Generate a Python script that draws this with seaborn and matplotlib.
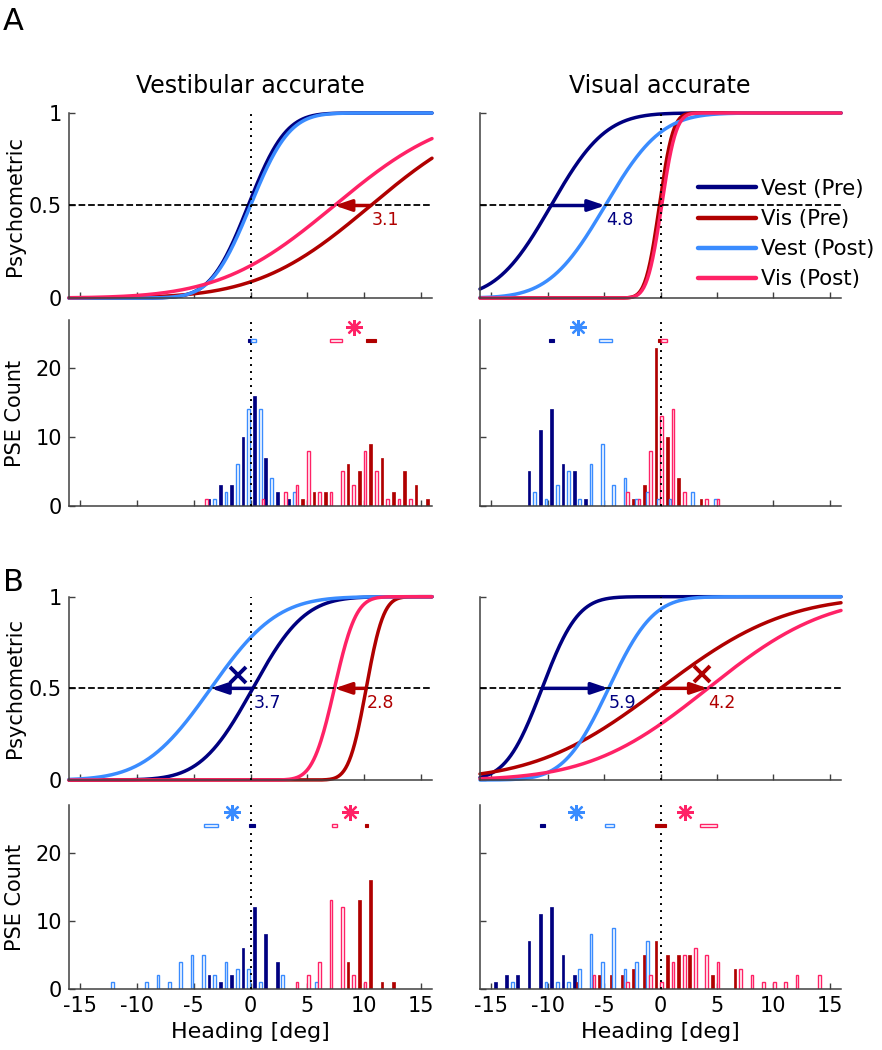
import numpy as np
import pandas as pd
import matplotlib
matplotlib.use("Agg")
import matplotlib.pyplot as plt
import seaborn as sns
from math import erf, sqrt

# ============================================
# DATA
# ============================================
CONDS = ['Vest (Pre)', 'Vis (Pre)', 'Vest (Post)', 'Vis (Post)']
COLORS = {'Vest (Pre)': '#000080', 'Vis (Pre)': '#b00000',
          'Vest (Post)': '#3a8cff', 'Vis (Post)': '#ff2266'}

# psychometric fits (cumulative Gaussian): PSE and sigma in deg, order = CONDS
A_vest_pse = [-0.2, 10.6, 0.0, 7.4]
A_vest_sigma = [2.6, 7.8, 2.7, 7.9]
A_vis_pse = [-9.7, -0.1, -4.9, 0.1]
A_vis_sigma = [3.8, 0.95, 3.9, 1.0]
B_vest_pse = [0.2, 10.2, -3.5, 7.4]
B_vest_sigma = [3.6, 1.2, 4.6, 1.5]
B_vis_pse = [-10.5, 0.0, -4.6, 4.2]
B_vis_sigma = [2.5, 8.7, 3.1, 8.2]

# shift arrows: (from, to, label)
A_vest_shifts = [('Vis (Pre)', 'Vis (Post)', '3.1')]
A_vis_shifts = [('Vest (Pre)', 'Vest (Post)', '4.8')]
B_vest_shifts = [('Vest (Pre)', 'Vest (Post)', '3.7'), ('Vis (Pre)', 'Vis (Post)', '2.8')]
B_vis_shifts = [('Vest (Pre)', 'Vest (Post)', '5.9'), ('Vis (Pre)', 'Vis (Post)', '4.2')]

# "x" marks on the B psychometric panels: (x, y, cond colour)
B_vest_xmark = (-1.07, 0.574, 'Vest (Pre)')
B_vis_xmark = (3.7, 0.58, 'Vis (Pre)')

# PSE histograms: heading bin (deg) and count
A_vest_vestpre_bin = [-4, -3, -2, -1, 0, 1, 2, 3]
A_vest_vestpre_n = [1, 3, 3, 10, 16, 7, 2, 1]
A_vest_vestpost_bin = [-3, -2, -1, 0, 1, 2, 4]
A_vest_vestpost_n = [1, 2, 6, 14, 14, 4, 2]
A_vest_vispre_bin = [4, 5, 6, 8, 9, 10, 11, 12, 13, 14, 15]
A_vest_vispre_n = [1, 2, 2, 6, 5, 9, 7, 2, 5, 3, 1]
A_vest_vispost_bin = [-4, 1, 3, 4, 5, 6, 7, 8, 9, 10, 11, 12, 13, 14]
A_vest_vispost_n = [1, 1, 2, 3, 8, 2, 2, 5, 3, 8, 5, 1, 1, 1]

A_vis_vestpre_bin = [-12, -11, -10, -9, -8, -7]
A_vis_vestpre_n = [5, 11, 14, 6, 5, 1]
A_vis_vestpost_bin = [-11, -10, -9, -8, -7, -6, -5, -4, -3, -2, -1, 0, 1, 3, 5]
A_vis_vestpost_n = [2, 1, 3, 5, 1, 6, 9, 3, 4, 1, 2, 1, 1, 2, 1]
A_vis_vispre_bin = [-3, -2, -1, 0, 1, 3]
A_vis_vispre_n = [1, 3, 23, 10, 4, 1]
A_vis_vispost_bin = [-3, -2, -1, 0, 1, 2, 4, 5]
A_vis_vispost_n = [2, 1, 8, 13, 14, 2, 1, 1]

B_vest_vestpre_bin = [-4, -3, -2, -1, 0, 1, 2]
B_vest_vestpre_n = [2, 1, 2, 6, 12, 8, 4]
B_vest_vestpost_bin = [-12, -9, -8, -7, -6, -5, -4, -3, -2, -1, 0, 1, 3, 6]
B_vest_vestpost_n = [1, 1, 2, 1, 4, 5, 5, 2, 4, 3, 3, 1, 2, 1]
B_vest_vispre_bin = [8, 9, 10, 11, 12]
B_vest_vispre_n = [4, 13, 16, 1, 1]
B_vest_vispost_bin = [4, 5, 6, 7, 8, 9, 10]
B_vest_vispost_n = [1, 2, 4, 13, 12, 2, 1]

B_vis_vestpre_bin = [-15, -14, -13, -12, -11, -10, -9, -8]
B_vis_vestpre_n = [1, 2, 2, 7, 11, 12, 5, 2]
B_vis_vestpost_bin = [-13, -10, -9, -8, -7, -6, -5, -4, -3, -2, -1]
B_vis_vestpost_n = [1, 1, 1, 1, 3, 8, 4, 9, 3, 4, 7]
B_vis_vispre_bin = [-8, -6, -5, -4, -3, -2, -1, 0, 1, 2, 4, 6]
B_vis_vispre_n = [1, 2, 2, 2, 3, 5, 7, 5, 5, 5, 2, 3]
B_vis_vispost_bin = [-6, -3, -1, 0, 1, 2, 3, 4, 5, 7, 8, 9, 10, 11, 12, 14]
B_vis_vispost_n = [2, 1, 2, 1, 4, 5, 6, 5, 4, 3, 2, 1, 1, 1, 2, 2]

# mean PSE intervals above the histograms: (lo, hi), order = CONDS
A_vest_ci = [(-0.2, 0.15), (10.2, 11.1), (0.06, 0.5), (7.0, 8.1)]
A_vis_ci = [(-9.9, -9.4), (-0.24, 0.15), (-5.46, -4.27), (0.0, 0.6)]
B_vest_ci = [(-0.1, 0.4), (10.06, 10.4), (-4.1, -2.84), (7.2, 7.6)]
B_vis_ci = [(-10.7, -10.2), (-0.5, 0.53), (-4.96, -4.13), (3.54, 5.0)]

# significance asterisks: (x, cond colour)
A_vest_star = [(9.1, 'Vis (Post)')]
A_vis_star = [(-7.3, 'Vest (Post)')]
B_vest_star = [(-1.65, 'Vest (Post)'), (8.8, 'Vis (Post)')]
B_vis_star = [(-7.5, 'Vest (Post)'), (2.15, 'Vis (Post)')]

# ============================================
# STYLE / LAYOUT
# ============================================
sns.set_style('ticks')
plt.rcParams['font.family'] = ['DejaVu Sans']
plt.rcParams['axes.unicode_minus'] = False
plt.rcParams['text.color'] = 'black'
plt.rcParams['axes.labelcolor'] = 'black'
plt.rcParams['xtick.labelcolor'] = 'black'
plt.rcParams['ytick.labelcolor'] = 'black'

W, H = 882, 1050
BAR_OFFSET = {'Vest (Pre)': 0.35, 'Vest (Post)': -0.15, 'Vis (Pre)': 0.6, 'Vis (Post)': 0.1}
SPINE = '#404040'

fig = plt.figure(figsize=(W / 100, H / 100), dpi=100)


def px_axes(l, t, r, b):
    return fig.add_axes([l / W, 1 - b / H, (r - l) / W, (b - t) / H])


def style_axes(ax, ylabels, xlabels):
    sns.despine(ax=ax)
    for s in ['left', 'bottom']:
        ax.spines[s].set_color(SPINE)
        ax.spines[s].set_linewidth(1.1)
    ax.set_xlim(-16, 16)
    ax.set_xticks([-15, -10, -5, 0, 5, 10, 15])
    ax.tick_params(direction='in', length=4, width=1, color=SPINE, labelsize=15,
                   labelcolor='black', labelleft=ylabels, labelbottom=xlabels, pad=5)
    ax.set_xlabel('')
    ax.set_ylabel('')


def norm_cdf(x, m, s):
    return np.array([0.5 * (1 + erf((v - m) / (s * sqrt(2)))) for v in x])


def psych_panel(ax, pse, sigma, shifts, xmark=None, legend=False, ylabels=True):
    xs = np.linspace(-16, 16, 400)
    frames = []
    for c, m, s in zip(CONDS, pse, sigma):
        frames.append(pd.DataFrame({'x': xs, 'p': norm_cdf(xs, m, s), 'cond': c}))
    df = pd.concat(frames)
    sns.lineplot(data=df, x='x', y='p', hue='cond', hue_order=CONDS, palette=COLORS,
                 lw=2.5, ax=ax, legend=legend, zorder=2)
    for ln in ax.get_lines():
        ln.set_clip_on(False)
    ax.set_ylim(0, 1)
    ax.set_yticks([0, 0.5, 1])
    ax.set_yticklabels(['0', '0.5', '1'])
    ax.axhline(0.5, color='k', ls='--', lw=1.3, zorder=3)
    ax.axvline(0, color='k', ls=(0, (1, 2.6)), lw=1.4, zorder=3)
    pse_of = dict(zip(CONDS, pse))
    for a, b, lab in shifts:
        col = COLORS[a]
        ax.annotate('', xy=(pse_of[b], 0.5), xytext=(pse_of[a], 0.5),
                    arrowprops=dict(arrowstyle='-|>,head_length=0.5,head_width=0.17',
                                    color=col, lw=2.5, shrinkA=0, shrinkB=0,
                                    mutation_scale=20), zorder=4)
        ax.text(max(pse_of[a], pse_of[b]) + 0.05, 0.47, lab, color=col,
                fontsize=12.5, ha='left', va='top', zorder=5)
    if xmark is not None:
        ax.plot(xmark[0], xmark[1], marker='x', ms=12, mew=2.8,
                color=COLORS[xmark[2]], zorder=5)
    if legend:
        ax.legend(loc='center left', bbox_to_anchor=(0.605, 0.345), frameon=False,
                  fontsize=15.3, handlelength=2.7, handletextpad=0.25,
                  labelspacing=0.48, borderpad=0, borderaxespad=0)
        for ln in ax.get_legend().get_lines():
            ln.set_linewidth(3.2)
    style_axes(ax, ylabels, False)


def hist_panel(ax, hists, ci, stars, ylabels=True, xlabels=False):
    for c in CONDS:
        bins, n = hists[c]
        pos = np.array(bins) + BAR_OFFSET[c]
        if 'Pre' in c:
            ax.bar(pos, n, width=0.24, color=COLORS[c], edgecolor=COLORS[c], lw=0.5, zorder=2)
        else:
            ax.bar(pos, n, width=0.24, facecolor='white', edgecolor=COLORS[c], lw=1.0, zorder=2)
    for c, (lo, hi) in zip(CONDS, ci):
        if 'Pre' in c:
            ax.barh(24, hi - lo, left=lo, height=0.5, color=COLORS[c], edgecolor=COLORS[c], lw=0.8, zorder=4)
        else:
            ax.barh(24, hi - lo, left=lo, height=0.5, facecolor='white', edgecolor=COLORS[c], lw=1.0, zorder=4)
    for x, c in stars:
        ax.plot(x, 26, marker=(8, 2, 0), ms=12, mew=1.6, color=COLORS[c], zorder=5)
    ax.axvline(0, color='k', ls=(0, (1, 2.6)), lw=1.4, zorder=3)
    ax.set_ylim(0, 27)
    ax.set_yticks([0, 10, 20])
    style_axes(ax, ylabels, xlabels)


def pack(vp, vpn, vq, vqn, sp, spn, sq, sqn):
    return {'Vest (Pre)': (vp, vpn), 'Vest (Post)': (vq, vqn),
            'Vis (Pre)': (sp, spn), 'Vis (Post)': (sq, sqn)}


LX = (69, 432)
RX = (480, 841)
ROWS = [(113, 298), (320, 505.7), (596.7, 780), (805, 989)]

# ---- A ----
ax = px_axes(LX[0], ROWS[0][0], LX[1], ROWS[0][1])
psych_panel(ax, A_vest_pse, A_vest_sigma, A_vest_shifts)
ax = px_axes(RX[0], ROWS[0][0], RX[1], ROWS[0][1])
psych_panel(ax, A_vis_pse, A_vis_sigma, A_vis_shifts, legend=True, ylabels=False)

ax = px_axes(LX[0], ROWS[1][0], LX[1], ROWS[1][1])
hist_panel(ax, pack(A_vest_vestpre_bin, A_vest_vestpre_n, A_vest_vestpost_bin, A_vest_vestpost_n,
                    A_vest_vispre_bin, A_vest_vispre_n, A_vest_vispost_bin, A_vest_vispost_n),
           A_vest_ci, A_vest_star)
ax = px_axes(RX[0], ROWS[1][0], RX[1], ROWS[1][1])
hist_panel(ax, pack(A_vis_vestpre_bin, A_vis_vestpre_n, A_vis_vestpost_bin, A_vis_vestpost_n,
                    A_vis_vispre_bin, A_vis_vispre_n, A_vis_vispost_bin, A_vis_vispost_n),
           A_vis_ci, A_vis_star, ylabels=False)

# ---- B ----
ax = px_axes(LX[0], ROWS[2][0], LX[1], ROWS[2][1])
psych_panel(ax, B_vest_pse, B_vest_sigma, B_vest_shifts, xmark=B_vest_xmark)
ax = px_axes(RX[0], ROWS[2][0], RX[1], ROWS[2][1])
psych_panel(ax, B_vis_pse, B_vis_sigma, B_vis_shifts, xmark=B_vis_xmark, ylabels=False)

ax = px_axes(LX[0], ROWS[3][0], LX[1], ROWS[3][1])
hist_panel(ax, pack(B_vest_vestpre_bin, B_vest_vestpre_n, B_vest_vestpost_bin, B_vest_vestpost_n,
                    B_vest_vispre_bin, B_vest_vispre_n, B_vest_vispost_bin, B_vest_vispost_n),
           B_vest_ci, B_vest_star, xlabels=True)
ax.set_xlabel('Heading [deg]', fontsize=16, labelpad=4)
ax = px_axes(RX[0], ROWS[3][0], RX[1], ROWS[3][1])
hist_panel(ax, pack(B_vis_vestpre_bin, B_vis_vestpre_n, B_vis_vestpost_bin, B_vis_vestpost_n,
                    B_vis_vispre_bin, B_vis_vispre_n, B_vis_vispost_bin, B_vis_vispost_n),
           B_vis_ci, B_vis_star, ylabels=False, xlabels=True)
ax.set_xlabel('Heading [deg]', fontsize=16, labelpad=4)

# ---- figure text ----
fig.text(3 / W, 1 - 7 / H, 'A', fontsize=22, va='top', ha='left')
fig.text(3 / W, 1 - 568 / H, 'B', fontsize=22, va='top', ha='left')
fig.text(250 / W, 1 - 86 / H, 'Vestibular accurate', fontsize=17, ha='center', va='center')
fig.text(660 / W, 1 - 86 / H, 'Visual accurate', fontsize=17, ha='center', va='center')
for yc, lab in [(205.5, 'Psychometric'), (413, 'PSE Count'), (688, 'Psychometric'), (897, 'PSE Count')]:
    fig.text(15 / W, 1 - yc / H, lab, fontsize=15, rotation=90, ha='center', va='center')

fig.savefig('out.png', dpi=100)
